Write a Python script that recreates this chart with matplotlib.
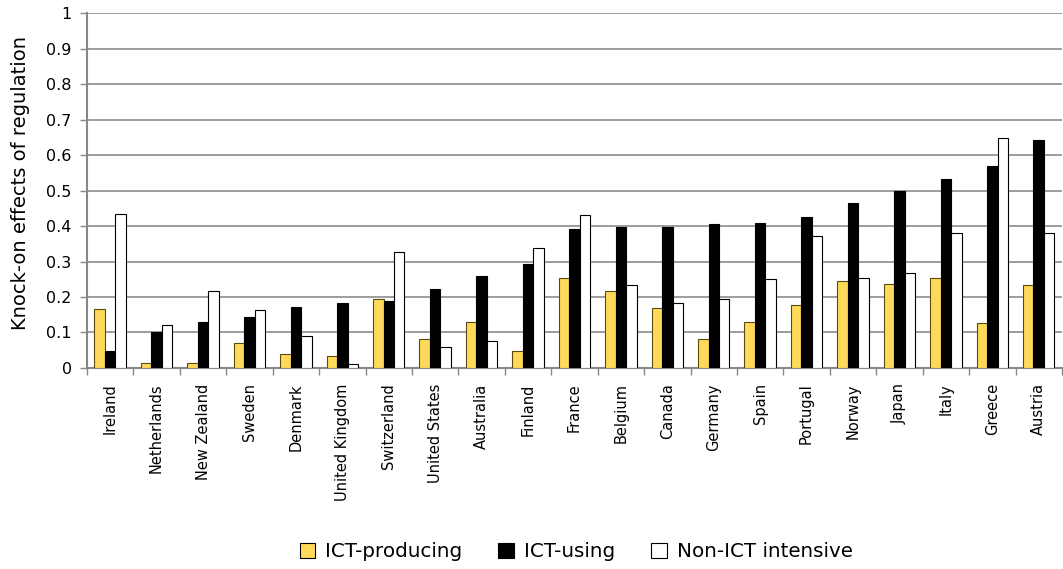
import matplotlib
matplotlib.use("Agg")
import matplotlib.pyplot as plt
import numpy as np
from matplotlib.patches import Patch

countries = ["Ireland", "Netherlands", "New Zealand", "Sweden", "Denmark",
             "United Kingdom", "Switzerland", "United States", "Australia",
             "Finland", "France", "Belgium", "Canada", "Germany", "Spain",
             "Portugal", "Norway", "Japan", "Italy", "Greece", "Austria"]

ict_producing = [0.167, 0.015, 0.015, 0.070, 0.038, 0.035, 0.195, 0.083,
                 0.130, 0.047, 0.253, 0.218, 0.168, 0.083, 0.130, 0.178,
                 0.245, 0.237, 0.253, 0.127, 0.233]
ict_using = [0.048, 0.100, 0.130, 0.145, 0.172, 0.183, 0.190, 0.222,
             0.258, 0.293, 0.392, 0.398, 0.398, 0.405, 0.408, 0.425,
             0.465, 0.500, 0.533, 0.568, 0.643]
non_ict = [0.435, 0.120, 0.218, 0.163, 0.090, 0.012, 0.328, 0.058,
           0.075, 0.337, 0.432, 0.233, 0.182, 0.193, 0.250, 0.373,
           0.253, 0.268, 0.380, 0.647, 0.380]

series_names = ["ICT-producing", "ICT-using", "Non-ICT intensive"]
y_ticks = [0, 0.1, 0.2, 0.3, 0.4, 0.5, 0.6, 0.7, 0.8, 0.9, 1]
y_tick_labels = ["0", "0.1", "0.2", "0.3", "0.4", "0.5", "0.6", "0.7", "0.8", "0.9", "1"]

plt.rcParams['font.family'] = ['DejaVu Sans']

fig = plt.figure(figsize=(10.63, 5.69), dpi=100)
ax = fig.add_axes([0.0818, 0.3533, 0.9172, 0.6237])

x = np.arange(len(countries))
w = 0.225
colors = ["#FFD95A", "#000000", "#FFFFFF"]
edges = ["#5a4a10", "#000000", "#000000"]
for i, (vals, c, e) in enumerate(zip([ict_producing, ict_using, non_ict], colors, edges)):
    ax.bar(x + (i - 1) * w, vals, width=w, color=c, edgecolor=e, linewidth=0.8, zorder=3)

ax.set_xlim(-0.5, len(countries) - 0.5)
ax.set_ylim(0, 1)
ax.set_yticks(y_ticks)
ax.set_yticklabels(y_tick_labels, fontsize=11.5)
ax.set_xticks(x)
ax.set_xticklabels(countries, rotation=90, fontsize=10.5)
ax.set_xticks(np.arange(len(countries) + 1) - 0.5, minor=True)
ax.tick_params(axis='x', which='major', length=0, pad=11)
ax.tick_params(axis='x', which='minor', length=5, color="#888888", width=1)
ax.tick_params(axis='y', length=5, color="#888888", width=1, direction='out', pad=6)

ax.grid(axis='y', color="#8c8c8c", linewidth=1.2, zorder=0)
ax.set_axisbelow(True)
for s in ["top", "right"]:
    ax.spines[s].set_visible(False)
for s in ["left", "bottom"]:
    ax.spines[s].set_color("#888888")
    ax.spines[s].set_linewidth(1.5)

ax.set_ylabel("Knock-on effects of regulation", fontsize=14)
ax.yaxis.set_label_coords(-0.058, 0.52)

handles = [Patch(facecolor=c, edgecolor="#000000", linewidth=0.8) for c in colors]
fig.legend(handles, series_names, loc='center', bbox_to_anchor=(0.542, 0.03),
           ncol=3, frameon=False, handlelength=0.8, handleheight=0.8,
           handletextpad=0.5, columnspacing=1.8, prop={'size': 14.3})

fig.savefig("out.png", dpi=100)
